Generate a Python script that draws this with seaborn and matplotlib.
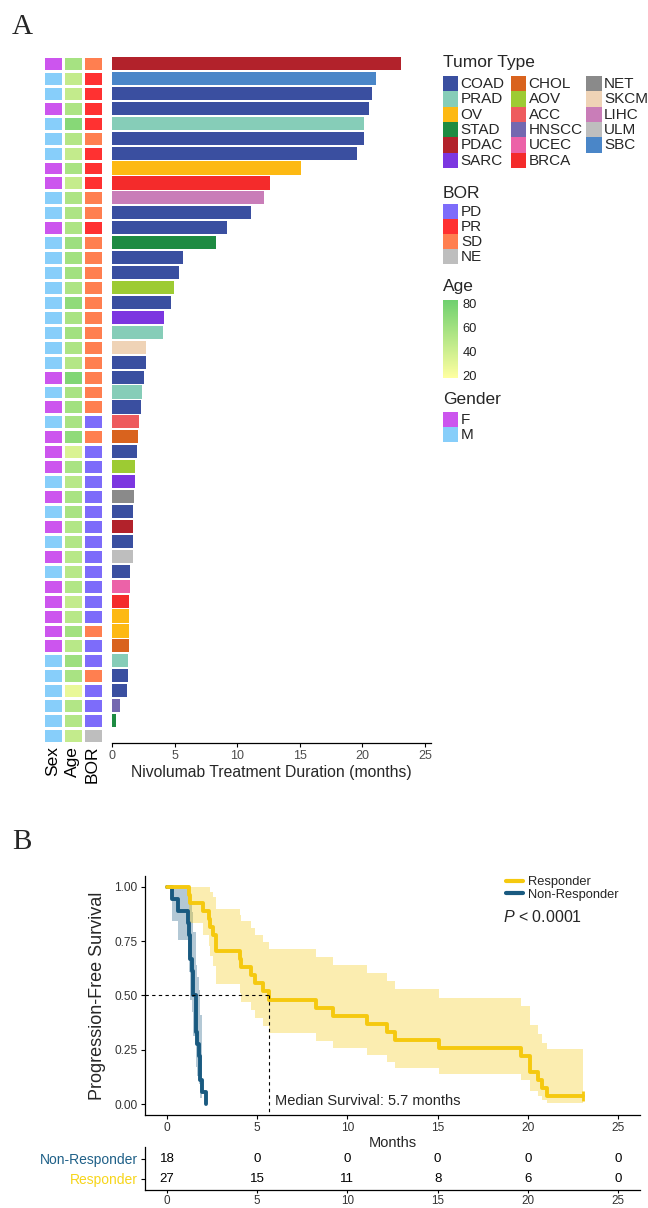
import numpy as np
import pandas as pd
import matplotlib
matplotlib.use("Agg")
import matplotlib.pyplot as plt
from matplotlib.colors import ListedColormap, LinearSegmentedColormap, Normalize
from matplotlib.patches import Rectangle
from matplotlib.lines import Line2D
import matplotlib.cm as cm
import seaborn as sns

# ---------------- data: panel A (patients, top to bottom) ----------------
patient_id = [f"P{i:02d}" for i in range(1, 47)]
tumor_type = ["PDAC", "SBC", "COAD", "COAD", "PRAD", "COAD", "COAD", "OV", "BRCA", "LIHC",
              "COAD", "COAD", "STAD", "COAD", "COAD", "AOV", "COAD", "SARC", "PRAD", "SKCM",
              "COAD", "COAD", "PRAD", "COAD", "ACC", "CHOL", "COAD", "AOV", "SARC", "NET",
              "COAD", "PDAC", "COAD", "ULM", "COAD", "UCEC", "BRCA", "OV", "OV", "CHOL",
              "PRAD", "COAD", "COAD", "HNSCC", "STAD", None]
duration = [23.06, 21.09, 20.80, 20.55, 20.15, 20.15, 19.60, 15.10, 12.62, 12.17,
            11.10, 9.21, 8.28, 5.67, 5.30, 4.90, 4.66, 4.10, 4.02, 2.72,
            2.72, 2.56, 2.40, 2.32, 2.16, 2.02, 1.94, 1.84, 1.84, 1.76,
            1.68, 1.62, 1.62, 1.62, 1.44, 1.44, 1.36, 1.30, 1.30, 1.30,
            1.22, 1.22, 1.14, 0.59, 0.29, np.nan]
sex = ["F", "M", "M", "F", "M", "M", "M", "F", "F", "M",
       "M", "F", "M", "M", "M", "M", "M", "M", "M", "M",
       "M", "F", "M", "F", "M", "F", "F", "F", "M", "F",
       "M", "F", "M", "F", "M", "F", "F", "F", "F", "F",
       "M", "M", "M", "M", "M", "M"]
age = [58, 45, 45, 55, 72, 52, 45, 57, 44, 55,
       55, 55, 62, 60, 60, 55, 68, 57, 60, 55,
       52, 75, 57, 60, 57, 68, 35, 57, 50, 57,
       57, 53, 53, 50, 50, 53, 45, 50, 60, 50,
       62, 57, 28, 53, 53, 45]
bor = ["SD", "PR", "PR", "PR", "PR", "SD", "PR", "PR", "PR", "SD",
       "SD", "PR", "SD", "SD", "SD", "SD", "SD", "SD", "SD", "SD",
       "SD", "SD", "SD", "SD", "PD", "SD", "PD", "PD", "PD", "PD",
       "PD", "PD", "PD", "PD", "PD", "PD", "PD", "PD", "SD", "PD",
       "PD", "SD", "PD", "PD", "PD", "NE"]
pfs_event = [0] + [1] * 45   # longest responder censored

tumor_levels = ["COAD", "PRAD", "OV", "STAD", "PDAC", "SARC",
                "CHOL", "AOV", "ACC", "HNSCC", "UCEC", "BRCA",
                "NET", "SKCM", "LIHC", "ULM", "SBC"]
tumor_colors = ["#3A4FA0", "#86CDB8", "#FDB913", "#1E8B42", "#B2222B", "#7C36E0",
                "#D9631E", "#9DCB33", "#EE5B5E", "#7468B0", "#EC62A8", "#F42B2B",
                "#8A8A8A", "#EFD3B6", "#C97DB8", "#BEBEBE", "#4A86C8"]
bor_levels = ["PD", "PR", "SD", "NE"]
bor_colors = ["#7D6CFA", "#FF3131", "#FF7F50", "#BEBEBE"]
sex_levels = ["F", "M"]
sex_colors = ["#CC55EE", "#87CEFA"]
age_colors = ["#FFFFA0", "#6FD06F"]
age_ticks = [20, 40, 60, 80]

# ---------------- data: panel B ----------------
group_names = ["Responder", "Non-Responder"]
group_colors = ["#F5C90F", "#195A80"]
risk_times = [0, 5, 10, 15, 20, 25]

df = pd.DataFrame({"pid": patient_id, "tumor": tumor_type, "duration": duration,
                   "sex": sex, "age": age, "bor": bor, "event": pfs_event})

# ---------------- style ----------------
sns.set_theme(style="white")
plt.rcParams["font.family"] = ["Liberation Sans", "DejaVu Sans"]
plt.rcParams["mathtext.fontset"] = "custom"
plt.rcParams["mathtext.it"] = "Liberation Sans:italic"
plt.rcParams["mathtext.rm"] = "Liberation Sans"

W, H = 648, 1208
fig = plt.figure(figsize=(W / 100, H / 100), dpi=100)


def rect(l, t, r, b):
    return [l / W, 1 - b / H, (r - l) / W, (b - t) / H]


TOP, BOT = 56, 743
n = len(df)

# ---------------- heatmap columns ----------------
ax_sex = fig.add_axes(rect(42.5, TOP, 62.5, BOT))
ax_age = fig.add_axes(rect(62.5, TOP, 82.5, BOT))
ax_bor = fig.add_axes(rect(82.5, TOP, 102.5, BOT))

sex_code = np.array([sex_levels.index(s) for s in df["sex"]], float).reshape(-1, 1)
bor_code = np.array([bor_levels.index(b) for b in df["bor"]], float).reshape(-1, 1)
age_arr = np.array(df["age"], float).reshape(-1, 1)
age_cmap = LinearSegmentedColormap.from_list("age", age_colors)
AGE_MIN, AGE_MAX = 18, 83

sns.heatmap(sex_code, ax=ax_sex, cmap=ListedColormap(sex_colors), vmin=0, vmax=1,
            cbar=False, linewidths=0.9, linecolor="white", xticklabels=["Sex"], yticklabels=False)
sns.heatmap(age_arr, ax=ax_age, cmap=age_cmap, vmin=AGE_MIN, vmax=AGE_MAX,
            cbar=False, linewidths=0.9, linecolor="white", xticklabels=["Age"], yticklabels=False)
sns.heatmap(bor_code, ax=ax_bor, cmap=ListedColormap(bor_colors), vmin=0, vmax=3,
            cbar=False, linewidths=0.9, linecolor="white", xticklabels=["BOR"], yticklabels=False)
for a in (ax_sex, ax_age, ax_bor):
    a.tick_params(axis="x", length=0, pad=2, labelsize=12.5, labelrotation=90, labelcolor="black")
    a.tick_params(axis="y", length=0)
    a.set_xlabel("")
    a.set_ylabel("")

# ---------------- swimmer bars ----------------
ax_bar = fig.add_axes(rect(112.3, TOP, 112.3 + 25.5 * 12.5, BOT))
bars = df[df["duration"].notna()]
sns.barplot(data=bars, x="duration", y="pid", hue="tumor", order=patient_id,
            hue_order=tumor_levels, palette=dict(zip(tumor_levels, tumor_colors)),
            dodge=False, width=0.88, orient="h", saturation=1, linewidth=0,
            errorbar=None, legend=False, ax=ax_bar)
ax_bar.set_xlim(0, 25.5)
ax_bar.set_ylim(n - 0.5, -0.5)
ax_bar.set_xticks([0, 5, 10, 15, 20, 25])
ax_bar.set_yticks([])
ax_bar.set_ylabel("")
ax_bar.set_xlabel("Nivolumab Treatment Duration (months)", fontsize=11.3, labelpad=2)
for s in ("left", "top", "right"):
    ax_bar.spines[s].set_visible(False)
ax_bar.spines["bottom"].set_color("black")
ax_bar.spines["bottom"].set_linewidth(0.9)
ax_bar.tick_params(axis="x", length=3, width=0.8, color="black", pad=2,
                   labelsize=9, labelcolor="#4D4D4D", bottom=True)

# ---------------- overlay for legends & panel letters ----------------
ov = fig.add_axes([0, 0, 1, 1])
ov.set_xlim(0, W)
ov.set_ylim(H, 0)
ov.axis("off")
ov.patch.set_alpha(0)

ov.text(22, 27, "A", fontsize=21, family="Liberation Serif", ha="center", va="center")
ov.text(22, 842, "B", fontsize=21, family="Liberation Serif", ha="center", va="center")

# Tumor type legend
KW, KH = 15.6, 15.3
ov.text(443, 62, "Tumor Type", fontsize=12.5, ha="left", va="center")
col_x = [442.7, 510.7, 586.0]
for i, (lab, colr) in enumerate(zip(tumor_levels, tumor_colors)):
    c, r = divmod(i, 6)
    x0, y0 = col_x[c], 76 + r * KH
    ov.add_patch(Rectangle((x0, y0), KW, KH, facecolor=colr, edgecolor="none"))
    ov.text(x0 + 18, y0 + KH / 2 + 0.5, lab, fontsize=11, ha="left", va="center")

# BOR legend
ov.text(443, 193, "BOR", fontsize=12.5, ha="left", va="center")
for i, (lab, colr) in enumerate(zip(bor_levels, bor_colors)):
    y0 = 204 + i * 15
    ov.add_patch(Rectangle((442.7, y0), KW, 15, facecolor=colr, edgecolor="none"))
    ov.text(461, y0 + 7.8, lab, fontsize=11, ha="left", va="center")

# Age colourbar
ov.text(443, 287, "Age", fontsize=12.5, ha="left", va="center")
cax = fig.add_axes(rect(442.7, 300, 458.3, 378))
cb = fig.colorbar(cm.ScalarMappable(norm=Normalize(AGE_MIN, AGE_MAX), cmap=age_cmap),
                  cax=cax, ticks=age_ticks)
cb.outline.set_visible(False)
cax.tick_params(axis="y", direction="in", length=3, width=0.8, color="white",
                labelsize=9.3, labelcolor="#222222", pad=3)

# Gender legend
ov.text(443, 400, "Gender", fontsize=12.5, ha="left", va="center")
for i, (lab, colr) in enumerate(zip(sex_levels, sex_colors)):
    y0 = 412 + i * 15
    ov.add_patch(Rectangle((442.7, y0), KW, 15, facecolor=colr, edgecolor="none"))
    ov.text(461, y0 + 7.8, lab, fontsize=11, ha="left", va="center")


# ---------------- Kaplan-Meier ----------------
def km_curve(times, events):
    t = np.asarray(times, float)
    e = np.asarray(events, int)
    xs, s, lo, hi = [0.0], [1.0], [1.0], [1.0]
    S, v = 1.0, 0.0
    for u in np.unique(t[e == 1]):
        nr = (t >= u).sum()
        d = ((t == u) & (e == 1)).sum()
        S *= 1 - d / nr
        if nr > d:
            v += d / (nr * (nr - d))
            l, h = S * np.exp(-1.96 * np.sqrt(v)), min(1.0, S * np.exp(1.96 * np.sqrt(v)))
        else:
            l, h = np.nan, np.nan
        xs.append(u); s.append(S); lo.append(l); hi.append(h)
    if t.max() > xs[-1]:
        xs.append(t.max()); s.append(s[-1]); lo.append(lo[-1]); hi.append(hi[-1])
    return np.array(xs), np.array(s), np.array(lo), np.array(hi)


km_df = df[df["bor"] != "NE"].copy()
km_df["group"] = np.where(km_df["bor"].isin(["PR", "SD"]), "Responder", "Non-Responder")

ax_km = fig.add_axes(rect(144.5, 875.8, 640.5, 1115.2))
curves = {}
for g, colr in zip(group_names, group_colors):
    sub = km_df[km_df["group"] == g]
    curves[g] = km_curve(sub["duration"], sub["event"])

for g in ["Non-Responder", "Responder"]:
    colr = group_colors[group_names.index(g)]
    xs, s, lo, hi = curves[g]
    ax_km.fill_between(xs, lo, hi, step="post", color=colr, alpha=0.33, linewidth=0)
for g in ["Non-Responder", "Responder"]:
    colr = group_colors[group_names.index(g)]
    xs, s, lo, hi = curves[g]
    sns.lineplot(x=xs, y=s, drawstyle="steps-post", estimator=None, sort=False,
                 color=colr, linewidth=2.8, ax=ax_km)

# censor mark
resp = km_df[km_df["group"] == "Responder"]
cens = resp[resp["event"] == 0]
xs_r, s_r, _, _ = curves["Responder"]
for ct in cens["duration"]:
    ax_km.plot([ct], [s_r[xs_r <= ct][-1]], marker="|", ms=7, mew=2, color=group_colors[0])

# median
med = xs_r[np.argmax(s_r <= 0.5)]
ax_km.plot([-1.25, med], [0.5, 0.5], ls=(0, (3, 3)), color="black", lw=0.8)
ax_km.plot([med, med], [0.5, -0.05], ls=(0, (3, 3)), color="black", lw=0.8)
ax_km.text(med + 0.3, 0.015, f"Median Survival: {med:.1f} months", fontsize=10.5,
           ha="left", va="center")

ax_km.set_xlim(-1.25, 26.25)
ax_km.set_ylim(-0.05, 1.05)
ax_km.set_xticks(risk_times)
ax_km.set_yticks([0, 0.25, 0.5, 0.75, 1.0])
ax_km.set_yticklabels(["0.00", "0.25", "0.50", "0.75", "1.00"])
ax_km.set_xlabel("Months", fontsize=10.5, labelpad=1)
ax_km.set_ylabel("Progression-Free Survival", fontsize=13, labelpad=6)
for s in ("top", "right"):
    ax_km.spines[s].set_visible(False)
for s in ("left", "bottom"):
    ax_km.spines[s].set_color("black")
    ax_km.spines[s].set_linewidth(0.9)
ax_km.tick_params(length=3, width=0.8, color="black", pad=2, labelsize=8.6,
                  labelcolor="#333333", bottom=True, left=True)

handles = [Line2D([], [], color=c, lw=3) for c in group_colors]
ax_km.legend(handles, group_names, loc="upper left", bbox_to_anchor=(506 / W, 1 - 876 / H),
             bbox_transform=fig.transFigure, frameon=False, fontsize=9.3,
             handlelength=1.3, handletextpad=0.4, labelspacing=0.05,
             borderpad=0, borderaxespad=0)
fig.text(503 / W, 1 - 917 / H, r"$P$ < 0.0001", fontsize=11.5, ha="left", va="center")

# ---------------- risk table ----------------
ax_rt = fig.add_axes(rect(144.5, 1147, 640.5, 1190))
row_pos = {"Non-Responder": 2, "Responder": 1}
for g in group_names:
    t = km_df.loc[km_df["group"] == g, "duration"].to_numpy()
    for rt in risk_times:
        ax_rt.text(rt, row_pos[g], str(int((t >= rt).sum())), fontsize=9.5,
                   ha="center", va="center", color="black")
ax_rt.set_xlim(-1.25, 26.25)
ax_rt.set_ylim(0.435, 2.585)
ax_rt.set_xticks(risk_times)
ax_rt.set_yticks([2, 1])
ax_rt.set_yticklabels(["Non-Responder", "Responder"])
for lab, g in zip(ax_rt.get_yticklabels(), ["Non-Responder", "Responder"]):
    lab.set_color("#1F6088" if g == "Non-Responder" else "#F7D51A")
for s in ("top", "right"):
    ax_rt.spines[s].set_visible(False)
for s in ("left", "bottom"):
    ax_rt.spines[s].set_color("black")
    ax_rt.spines[s].set_linewidth(0.9)
ax_rt.tick_params(axis="y", length=3, width=0.8, color="black", pad=1.5, labelsize=10, left=True)
ax_rt.tick_params(axis="x", length=2.5, width=0.8, color="black", pad=1, labelsize=8.4,
                  labelcolor="#333333", bottom=True)

fig.savefig("out.png", dpi=100)
